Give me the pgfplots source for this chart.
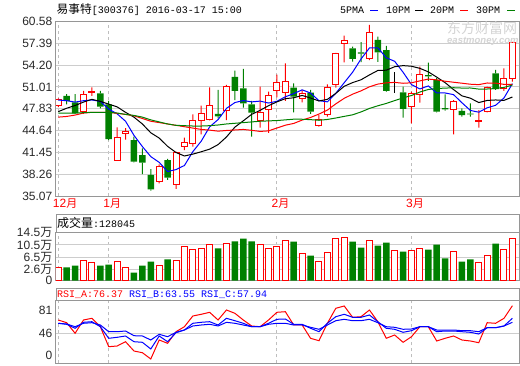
\documentclass[border=0pt]{standalone}
\usepackage{fontspec}
\setmainfont{Liberation Sans}
\newfontfamily\cjk{Noto Sans CJK SC}
\newfontfamily\mono{Liberation Mono}
\usepackage{pgfplots}
\usepackage{pgfplotstable}
\pgfplotsset{compat=1.18}
\definecolor{upred}{RGB}{255,0,0}
\definecolor{dngreen}{RGB}{0,128,0}
\definecolor{mablue}{RGB}{0,0,255}
\definecolor{bordergray}{RGB}{150,150,150}
\definecolor{gridgray}{RGB}{205,205,205}
\definecolor{dashgray}{RGB}{190,190,190}
\definecolor{labelgray}{RGB}{40,40,40}
\definecolor{wmgray}{RGB}{212,212,212}

% up (red) candles: index open high low close
\pgfplotstableread{
i o h l c
0 48.23 49.35 48.08 49.20
3 47.39 50.42 47.06 49.84
4 50.20 50.96 49.70 50.40
7 40.33 45.11 40.23 43.64
8 44.25 45.00 43.30 44.45
12 37.16 39.70 36.92 39.45
14 36.78 41.55 36.10 41.45
15 42.33 43.60 41.79 42.96
16 42.77 47.00 42.28 46.13
17 46.13 48.27 44.08 47.15
18 46.28 50.96 46.13 48.23
20 47.64 51.30 46.18 51.15
24 46.18 51.05 45.06 47.30
25 47.74 50.32 44.30 49.74
26 50.42 52.80 49.50 51.69
27 50.22 54.46 48.96 51.88
29 49.35 50.57 48.76 50.03
31 45.40 46.91 45.20 46.28
32 47.01 51.39 46.67 50.96
33 51.30 56.00 50.91 55.93
34 57.39 58.50 54.61 57.73
37 55.20 60.07 54.95 59.00
42 48.13 50.32 45.69 50.03
43 49.93 53.98 48.71 52.86
47 47.74 49.10 44.08 48.86
50 45.95 47.64 45.06 46.10
51 47.40 51.05 47.30 50.91
53 50.81 53.73 50.42 52.27
54 52.27 57.60 51.78 57.53
}\upT

% down (green) candles
\pgfplotstableread{
i o h l c
1 49.69 49.98 48.47 48.96
2 48.76 49.98 47.06 47.15
5 50.08 50.42 47.89 48.13
6 48.47 48.96 43.25 43.40
9 43.25 43.74 39.99 40.09
10 41.06 42.04 38.28 39.94
11 38.14 38.99 35.84 36.04
13 40.33 40.50 37.41 37.75
19 47.06 50.57 46.42 46.72
21 52.47 53.40 49.10 50.42
22 50.81 53.64 47.98 48.62
23 48.47 48.96 43.74 47.25
28 50.91 51.54 47.30 49.59
30 50.18 50.57 47.06 47.40
35 56.66 56.90 54.71 55.10
36 56.05 57.55 54.65 55.90
38 57.88 58.36 54.67 56.07
39 56.41 57.00 50.32 50.42
41 50.22 51.05 46.52 47.79
44 52.75 54.56 51.90 52.55
45 52.03 52.30 47.30 47.40
46 47.90 49.93 47.55 47.75
48 47.50 47.89 46.67 46.91
49 47.10 48.62 46.67 47.00
52 53.00 53.49 50.57 50.71
}\dnT

% unchanged (black) candle
\pgfplotstableread{
i o h l c
40 52.50 53.24 50.08 52.50
}\flatT

% moving averages
\pgfplotstableread{
i ma5 ma10 ma20 ma30
0 49.10 47.40 46.60 47.20
1 49.00 47.90 46.70 47.20
2 48.80 48.30 46.90 47.20
3 49.00 48.80 47.20 47.25
4 49.11 49.20 47.30 47.30
5 48.90 48.90 47.30 47.30
6 47.78 48.50 47.30 47.30
7 47.08 48.10 47.15 47.20
8 46.00 47.30 47.00 47.00
9 43.94 46.60 46.80 46.85
10 42.30 45.60 46.40 46.60
11 40.83 44.31 46.00 46.20
12 39.99 43.54 45.80 45.90
13 38.65 42.33 45.60 45.60
14 38.93 41.43 45.40 45.40
15 39.53 40.92 45.20 45.35
16 41.55 41.19 45.00 45.30
17 43.09 41.54 44.80 45.30
18 45.18 41.92 44.70 45.35
19 46.24 42.58 44.55 45.45
20 47.88 43.70 44.65 45.60
21 48.73 45.14 44.72 45.70
22 49.02 46.06 44.80 45.80
23 48.83 47.01 44.67 45.90
24 48.94 47.59 44.51 46.00
25 48.66 48.27 44.59 46.05
26 48.92 48.83 45.01 46.10
27 49.57 49.30 45.42 46.20
28 50.04 49.43 45.68 46.30
29 50.59 49.77 46.17 46.29
30 50.12 49.39 46.55 46.23
31 49.01 48.96 47.05 46.14
32 48.83 49.20 47.63 46.26
33 50.09 50.07 48.54 46.47
34 51.63 51.11 49.35 46.71
35 53.17 51.65 49.96 46.94
36 55.10 52.06 50.44 47.36
37 56.71 52.77 51.03 47.87
38 56.74 53.42 51.43 48.26
39 55.28 53.46 51.61 48.60
40 54.76 53.97 51.68 49.02
41 53.16 54.13 51.55 49.41
42 51.36 54.04 51.62 49.76
43 50.72 53.73 51.90 50.27
44 51.16 53.22 52.16 50.64
45 50.14 52.45 52.05 50.79
46 50.13 51.64 51.85 50.84
47 49.89 50.63 51.70 50.90
48 48.70 49.71 51.56 50.85
49 47.58 49.37 51.41 50.86
50 47.32 48.73 51.35 50.70
51 47.96 49.04 51.59 50.71
52 48.33 49.11 51.57 50.78
53 49.40 49.05 51.39 50.95
54 51.50 49.54 51.38 51.29
}\maT

% volume (scaled to panel, top = 14.5)
\pgfplotstableread{
i v
0 4.04
3 5.95
4 5.35
7 5.65
8 3.94
12 4.54
14 6.05
15 10.29
16 9.38
17 9.69
18 10.80
20 11.10
24 10.80
25 9.69
26 10.29
27 12.11
29 8.07
31 5.75
32 8.37
33 12.61
34 12.92
37 12.11
40 9.08
42 9.08
43 9.69
47 8.68
50 5.35
51 7.47
53 9.38
54 12.71
}\volUpT

\pgfplotstableread{
i v
1 4.04
2 4.54
5 4.54
6 4.84
9 2.42
10 4.54
11 5.75
13 6.46
19 9.79
21 11.91
22 12.71
23 11.91
28 11.81
30 7.57
35 11.81
36 9.99
38 10.59
39 11.50
41 8.78
44 9.38
45 10.90
46 6.76
48 5.75
49 6.46
52 11.20
}\volDnT

% RSI lines (panel units)
\pgfplotstableread{
i ra rb rc
0 43.3 40.0 40.0
1 40.6 39.0 39.3
2 30.0 35.0 36.6
3 43.3 41.0 40.0
4 45.0 41.6 40.6
5 36.6 36.6 38.3
6 16.6 25.0 31.6
7 17.3 26.0 31.6
8 21.6 27.3 32.3
9 12.3 21.6 27.6
10 10.6 21.0 27.3
11 4.3 14.3 23.3
12 23.3 27.3 29.0
13 20.0 21.6 26.6
14 31.6 30.6 31.0
15 36.6 33.3 33.3
16 47.3 40.0 37.3
17 49.0 41.0 38.3
18 51.0 41.6 39.0
19 43.3 38.3 37.3
20 53.3 45.0 41.0
21 50.0 42.6 40.0
22 43.3 40.0 38.3
23 37.3 36.6 36.6
24 36.6 36.6 36.6
25 43.3 40.0 39.0
26 51.0 44.0 40.0
27 51.6 44.3 40.0
28 38.3 39.0 38.3
29 38.3 39.0 38.3
30 25.0 35.0 36.0
31 22.6 31.6 34.0
32 40.0 40.0 38.3
33 55.0 46.6 42.6
34 57.3 49.0 44.0
35 46.0 46.0 42.6
36 46.6 46.0 42.6
37 53.3 48.3 44.0
38 41.6 41.6 40.6
39 25.0 35.0 36.6
40 28.3 34.0 36.0
41 21.0 31.0 34.0
42 26.6 32.6 34.3
43 36.6 36.6 36.6
44 36.6 36.6 36.6
45 22.3 31.6 33.3
46 25.0 32.3 33.3
47 27.3 32.3 33.3
48 23.3 31.6 32.6
49 22.3 31.0 32.6
50 20.6 29.3 31.6
51 40.6 35.6 35.6
52 40.0 35.6 35.6
53 45.0 37.3 37.3
54 57.6 45.0 41.0
}\rsiT

\pgfplotsset{
  geom/.style={
    scale only axis, anchor=south west,
    xmin=-0.27, xmax=54.82, width=463.3pt,
  },
  stockbase/.style={
    geom,
    axis line style={draw=bordergray, line width=1pt},
    major tick length=0pt, minor tick num=0,
    xtick={0,6,26,42}, xmajorgrids,
    major grid style={draw=dashgray, line width=1pt, dash pattern=on 3pt off 3pt},
    yticklabel style={anchor=east, inner sep=0pt, xshift=-3.5pt,
      font=\fontsize{12}{12}\selectfont, text=labelgray},
    extra y tick style={grid=major,
      major grid style={draw=gridgray, line width=1pt, solid}},
    extra y tick labels={},
    axis background/.style={fill=white},
  },
  pricegeom/.style={geom, at={(56pt,169pt)}, height=174.5pt, ymin=35.07, ymax=60.58},
  candles/.style={pricegeom, hide axis, ybar stacked, bar shift=0pt},
  wickbar/.style={draw=none, fill=#1, bar width=1pt},
}

\begin{document}
\begin{tikzpicture}
\useasboundingbox (0,0) rectangle (520pt,365pt);

% ---------------- price panel: frame, grid, labels ----------------
\begin{axis}[stockbase, pricegeom,
  ytick={35.07,38.26,41.45,44.64,47.83,51.01,54.20,57.39,60.58},
  yticklabels={35.07,38.26,41.45,44.64,47.83,51.01,54.20,57.39,60.58},
  extra y ticks={38.26,41.45,44.64,47.83,51.01,54.20,57.39},
  xticklabels={12{\cjk\fontsize{11}{11}\selectfont 月},1{\cjk\fontsize{11}{11}\selectfont 月},2{\cjk\fontsize{11}{11}\selectfont 月},3{\cjk\fontsize{11}{11}\selectfont 月}},
  xticklabel style={anchor=north west, inner sep=0pt, xshift=-5.5pt, yshift=-2.5pt,
    font=\fontsize{12}{12}\selectfont, text=upred},
]
\end{axis}

% red (up) candles: low | lower wick | hollow body | upper wick
\begin{axis}[candles]
\addplot[draw=none, fill=none, bar width=1pt] table[x=i, y=l] {\upT};
\addplot[wickbar=upred] table[x=i, y expr=\thisrow{o}-\thisrow{l}] {\upT};
\addplot[draw=upred, fill=white, line width=1pt, bar width=6pt] table[x=i, y expr=\thisrow{c}-\thisrow{o}] {\upT};
\addplot[wickbar=upred] table[x=i, y expr=\thisrow{h}-\thisrow{c}] {\upT};
\end{axis}

% green (down) candles: low | lower wick | filled body | upper wick
\begin{axis}[candles]
\addplot[draw=none, fill=none, bar width=1pt] table[x=i, y=l] {\dnT};
\addplot[wickbar=dngreen] table[x=i, y expr=\thisrow{c}-\thisrow{l}] {\dnT};
\addplot[draw=none, fill=dngreen, bar width=6.5pt] table[x=i, y expr=\thisrow{o}-\thisrow{c}] {\dnT};
\addplot[wickbar=dngreen] table[x=i, y expr=\thisrow{h}-\thisrow{o}] {\dnT};
\end{axis}

% unchanged candle (black)
\begin{axis}[candles]
\addplot[draw=none, fill=none, bar width=1pt] table[x=i, y=l] {\flatT};
\addplot[wickbar=black] table[x=i, y expr=\thisrow{o}-\thisrow{l}] {\flatT};
\addplot[draw=black, fill=black, line width=1pt, bar width=6pt] table[x=i, y expr=\thisrow{c}-\thisrow{o}] {\flatT};
\addplot[wickbar=black] table[x=i, y expr=\thisrow{h}-\thisrow{c}] {\flatT};
\end{axis}

% moving averages on top
\begin{axis}[pricegeom, hide axis]
\addplot[mablue, line width=1pt, mark=none] table[x=i, y=ma5] {\maT};
\addplot[black, line width=1pt, mark=none] table[x=i, y=ma10] {\maT};
\addplot[upred, line width=1pt, mark=none] table[x=i, y=ma20] {\maT};
\addplot[dngreen, line width=1pt, mark=none] table[x=i, y=ma30] {\maT};
\end{axis}

% ---------------- volume panel ----------------
\begin{axis}[stockbase,
  at={(56pt,84.4pt)}, height=47.9pt,
  ymin=0, ymax=14.5,
  ytick={0,3.51,7.05,10.78,14.5},
  yticklabels={0,2.6{\cjk 万},6.5{\cjk 万},10.5{\cjk 万},14.5{\cjk 万}},
  extra y ticks={3.51,7.05,10.78},
  xticklabels={,,,},
]
\addplot[ybar, bar width=6.5pt, bar shift=0pt, draw=none, fill=dngreen] table[x=i, y=v] {\volDnT};
\addplot[ybar, bar width=6pt, bar shift=0pt, draw=upred, fill=white, line width=1pt] table[x=i, y=v] {\volUpT};
\end{axis}

% ---------------- RSI panel ----------------
\begin{axis}[stockbase,
  at={(56pt,1.7pt)}, height=62.6pt,
  ymin=0, ymax=62.6,
  ytick={7.6,30,53.3},
  yticklabels={0,46,81},
  extra y ticks={30},
  xticklabels={,,,},
]
\addplot[upred, line width=1pt, mark=none] table[x=i, y=ra] {\rsiT};
\addplot[mablue, line width=1pt, mark=none] table[x=i, y=rb] {\rsiT};
\addplot[mablue, line width=1pt, mark=none] table[x=i, y=rc] {\rsiT};
\end{axis}

% header boxes
\draw[bordergray, line width=1pt] (56pt,132.3pt) rectangle (519.3pt,150.7pt);
\draw[bordergray, line width=1pt] (56pt,64.3pt) rectangle (519.3pt,76.7pt);

% texts
\node[anchor=west, inner sep=0pt] at (56.5pt,355pt)
  {{\cjk\fontsize{11.7}{12}\selectfont 易事特}{\mono\fontsize{10}{12}\selectfont [300376] 2016-03-17 15:00}};
\node[anchor=west, inner sep=0pt] at (340pt,354.5pt) {\mono\fontsize{10}{12}\selectfont 5PMA};
\draw[mablue, line width=1pt] (370pt,354.5pt) -- (378pt,354.5pt);
\node[anchor=west, inner sep=0pt] at (386pt,354.5pt) {\mono\fontsize{10}{12}\selectfont 10PM};
\draw[black, line width=1pt] (415pt,354.5pt) -- (423pt,354.5pt);
\node[anchor=west, inner sep=0pt] at (430pt,354.5pt) {\mono\fontsize{10}{12}\selectfont 20PM};
\draw[upred, line width=1pt] (460pt,354.5pt) -- (468pt,354.5pt);
\node[anchor=west, inner sep=0pt] at (476pt,354.5pt) {\mono\fontsize{10}{12}\selectfont 30PM};
\draw[dngreen, line width=1pt] (507pt,354.5pt) -- (515pt,354.5pt);

% watermark
\node[text=wmgray, anchor=west, inner sep=0pt] at (447pt,336.5pt) {\cjk\fontsize{14}{14}\selectfont 东方财富网};
\node[text=wmgray, anchor=west, inner sep=0pt] at (447pt,324pt) {\fontsize{9.5}{10}\selectfont\bfseries\itshape eastmoney.com};

\node[anchor=west, inner sep=0pt] at (57pt,141.7pt)
  {{\cjk\fontsize{12}{12}\selectfont 成交量}{\mono\fontsize{10}{12}\selectfont :128045}};
\node[anchor=west, inner sep=0pt] at (57pt,70.5pt)
  {\mono\fontsize{10}{12}\selectfont\color{upred}RSI\_A:76.37 \color{mablue}RSI\_B:63.55 RSI\_C:57.94};
\end{tikzpicture}
\end{document}
